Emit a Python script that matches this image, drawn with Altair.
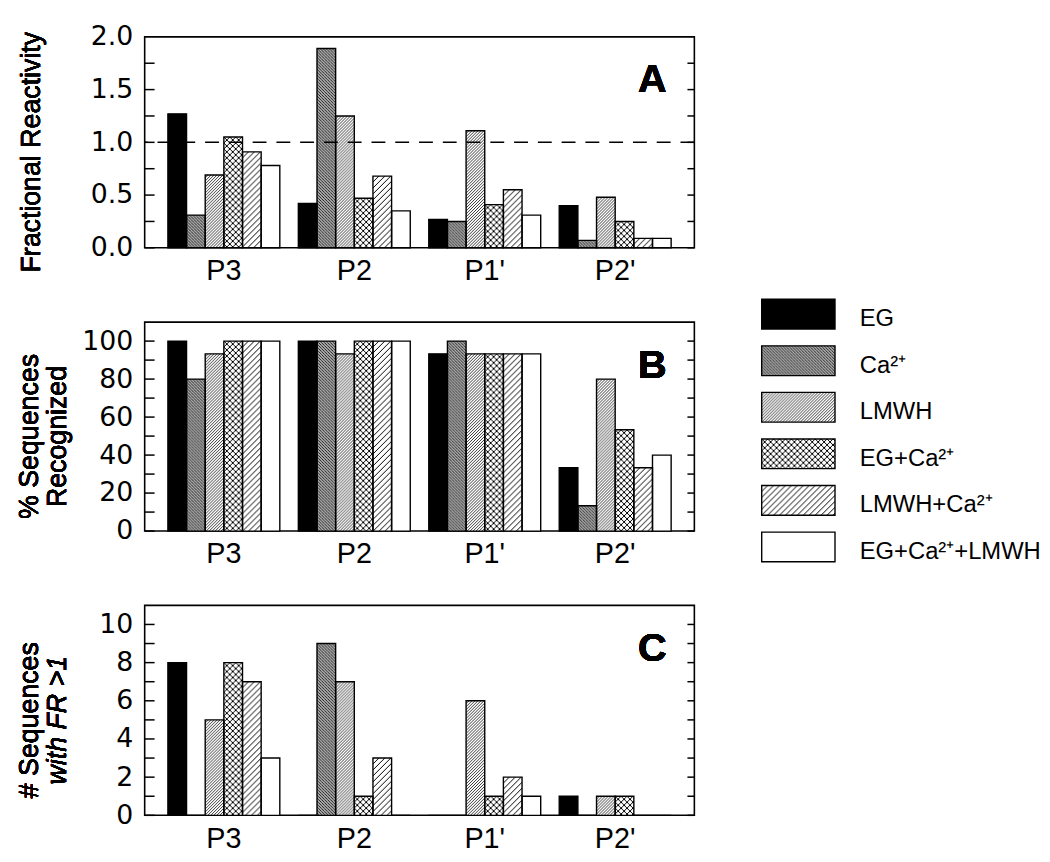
import altair as alt
import pandas as pd
from urllib.parse import quote

# ---------------- data ----------------
sites = ["P3", "P2", "P1'", "P2'"]
conditions = ["EG", "Ca²⁺", "LMWH", "EG+Ca²⁺", "LMWH+Ca²⁺", "EG+Ca²⁺+LMWH"]

# Panel A – fractional reactivity (values follow `sites`)
fr_values = {
    "EG": [1.27, 0.42, 0.27, 0.40],
    "Ca²⁺": [0.31, 1.89, 0.25, 0.07],
    "LMWH": [0.69, 1.25, 1.11, 0.48],
    "EG+Ca²⁺": [1.05, 0.47, 0.41, 0.25],
    "LMWH+Ca²⁺": [0.91, 0.68, 0.55, 0.09],
    "EG+Ca²⁺+LMWH": [0.78, 0.35, 0.31, 0.09],
}
# Panel B – % sequences recognized
pct_values = {
    "EG": [100, 100, 93.3, 33.3],
    "Ca²⁺": [80, 100, 100, 13.3],
    "LMWH": [93.3, 93.3, 93.3, 80],
    "EG+Ca²⁺": [100, 100, 93.3, 53.3],
    "LMWH+Ca²⁺": [100, 100, 93.3, 33.3],
    "EG+Ca²⁺+LMWH": [100, 100, 93.3, 40],
}
# Panel C – number of sequences with FR > 1
count_values = {
    "EG": [8, 0, 0, 1],
    "Ca²⁺": [0, 9, 0, 0],
    "LMWH": [5, 7, 6, 1],
    "EG+Ca²⁺": [8, 1, 1, 1],
    "LMWH+Ca²⁺": [7, 3, 2, 0],
    "EG+Ca²⁺+LMWH": [3, 0, 1, 0],
}

# ---------------- styles ----------------
W = 555
FONT = "Liberation Sans"
NUMFONT = "DejaVu Sans"


def tile(size, body, bg="white"):
    svg = (
        "<svg xmlns='http://www.w3.org/2000/svg'>"
        f"<defs><pattern id='p' patternUnits='userSpaceOnUse' width='{size}' height='{size}'>"
        f"<rect width='{size}' height='{size}' fill='{bg}'/>{body}</pattern></defs>"
        "<rect width='100%' height='100%' fill='url(#p)'/></svg>"
    )
    return "data:image/svg+xml;charset=utf-8," + quote(svg)


def diag(s, w, color="black"):
    return (f"<path d='M0,{s} L{s},0 M-1,1 L1,-1 M{s-1},{s+1} L{s+1},{s-1}' "
            f"stroke='{color}' stroke-width='{w}'/>")


def cross(s, w, color="black"):
    return (f"<path d='M0,{s} L{s},0 M-1,1 L1,-1 M{s-1},{s+1} L{s+1},{s-1} "
            f"M0,0 L{s},{s} M-1,{s-1} L1,{s+1} M{s-1},-1 L{s+1},1' "
            f"stroke='{color}' stroke-width='{w}'/>")


patterns = {
    "Ca²⁺": tile(3, "<rect x='0' y='0' width='1' height='1' fill='#222'/>"
                    "<rect x='1' y='1' width='1' height='1' fill='#444'/>"
                    "<rect x='2' y='2' width='1' height='1' fill='#222'/>", bg="#a8a8a8"),
    "LMWH": tile(3, diag(3, 0.9, "#222")),
    "EG+Ca²⁺": tile(6, cross(6, 1.0)),
    "LMWH+Ca²⁺": tile(6, diag(6, 1.0)),
}
base_fill = ["black", "#777777", "#b0b0b0", "#c8c8c8", "#d8d8d8", "white"]


def long_df(values):
    rows = []
    for c in conditions:
        for s, v in zip(sites, values[c]):
            rows.append({"site": s, "cond": c, "value": v})
    return pd.DataFrame(rows)


def panel(values, ymax, label_vals, fmt, tick_vals, letter, title_lines, H,
          italic_second=False, ref=None):
    df = long_df(values)
    base = alt.Chart(df)
    x = alt.X("site:N", sort=sites,
              scale=alt.Scale(paddingInner=0.142, paddingOuter=0.178),
              axis=alt.Axis(title=None, labelAngle=0, labelFontSize=29, labelFont=FONT,
                            labelColor="black", ticks=False, domain=False, labelPadding=9))
    xo = alt.XOffset("cond:N", sort=conditions,
                     scale=alt.Scale(domain=conditions, paddingInner=0, paddingOuter=0))
    yscale = alt.Scale(domain=[0, ymax], nice=False, zero=True)
    yaxis = alt.Axis(title=None, values=label_vals, format=fmt, ticks=False,
                     domain=False, grid=False, labelFontSize=27, labelFont=NUMFONT,
                     labelColor="black", labelPadding=12)

    def Y(field):
        return alt.Y(field, scale=yscale, axis=yaxis, title=None)

    layers = [
        base.mark_bar(strokeWidth=0).encode(
            x=x, xOffset=xo, y=Y("value:Q"),
            fill=alt.Fill("cond:N", sort=conditions,
                          scale=alt.Scale(domain=conditions, range=base_fill), legend=None)),
    ]
    for c, uri in patterns.items():
        layers.append(
            base.transform_filter(alt.datum.cond == c)
            .mark_image(aspect=False)
            .encode(x=x, xOffset=xo, y=Y("value:Q"), y2=alt.datum(0),
                    url=alt.value(uri))
        )
    layers.append(
        base.mark_bar(fillOpacity=0, stroke="black", strokeWidth=1.4).encode(
            x=x, xOffset=xo, y=Y("value:Q"))
    )
    tdf = pd.DataFrame({"value": tick_vals})
    layers.append(alt.Chart(tdf).mark_rule(color="black", strokeWidth=1.5).encode(
        y=Y("value:Q"), x=alt.value(0), x2=alt.value(10)))
    layers.append(alt.Chart(tdf).mark_rule(color="black", strokeWidth=1.5).encode(
        y=Y("value:Q"), x=alt.value(W - 7), x2=alt.value(W)))
    if ref is not None:
        layers.append(alt.Chart(pd.DataFrame({"value": [ref]})).mark_rule(
            color="black", strokeWidth=1.5, strokeDash=[14, 10]).encode(y=Y("value:Q")))
    layers.append(alt.Chart(tdf).mark_text(
        text=letter, font=FONT, fontSize=40, fontWeight="bold", align="right",
        baseline="middle").encode(x=alt.value(W - 28), y=alt.value(44)))
    if len(title_lines) == 1:
        offs = [-114]
    else:
        offs = [-116, -87]
    for i, (line, off) in enumerate(zip(title_lines, offs)):
        style = "italic" if (italic_second and i == 1) else "normal"
        layers.append(alt.Chart(tdf).mark_text(
            text=line, font=FONT, fontSize=27, fontStyle=style, angle=270,
            align="center", baseline="middle").encode(
            x=alt.value(off), y=alt.value(H / 2 + 10)))
    return alt.layer(*layers).properties(width=W, height=H)


pA = panel(fr_values, 2.0, [0, 0.5, 1.0, 1.5, 2.0], ".1f",
           [0.25 * i for i in range(8)], "A", ["Fractional  Reactivity"], 213, ref=1.0)
pB = panel(pct_values, 110, [0, 20, 40, 60, 80, 100], "d",
           list(range(0, 101, 10)), "B", ["% Sequences", "Recognized"], 211)
pC = panel(count_values, 11, [0, 2, 4, 6, 8, 10], "d",
           list(range(0, 11)), "C", ["# Sequences", "with FR >1"], 212, italic_second=True)

left = alt.vconcat(pA, pB, pC, spacing=35)

# ---------------- legend ----------------
leg = alt.Chart(pd.DataFrame({"cond": conditions}))
ly = alt.Y("cond:N", sort=conditions,
           scale=alt.Scale(domain=conditions, range=[265, 530], paddingInner=0.362,
                           paddingOuter=0), axis=None)
leg_layers = [
    leg.mark_rect(strokeWidth=0).encode(
        x=alt.value(0), x2=alt.value(74), y=ly,
        fill=alt.Fill("cond:N", sort=conditions,
                      scale=alt.Scale(domain=conditions, range=base_fill), legend=None)),
]
for c, uri in patterns.items():
    leg_layers.append(leg.transform_filter(alt.datum.cond == c).mark_image(aspect=False)
                      .encode(x=alt.value(0), x2=alt.value(74), y=ly, url=alt.value(uri)))
leg_layers.append(leg.mark_rect(fillOpacity=0, stroke="black", strokeWidth=1.4).encode(
    x=alt.value(0), x2=alt.value(74), y=ly))
leg_layers.append(leg.mark_text(align="left", baseline="middle", font=FONT, fontSize=24,
                                dy=5).encode(x=alt.value(99), y=ly, text="cond:N"))
legend = alt.layer(*leg_layers).properties(
    width=280, height=781, view=alt.ViewBackground(stroke="transparent"))

chart = alt.hconcat(left, legend, spacing=64).properties(
    padding={"left": 7, "top": 10, "right": 0, "bottom": 5}
).configure_view(stroke="black", strokeWidth=1.6)

chart.save("out.html", embed_options={"renderer": "svg", "actions": False})
